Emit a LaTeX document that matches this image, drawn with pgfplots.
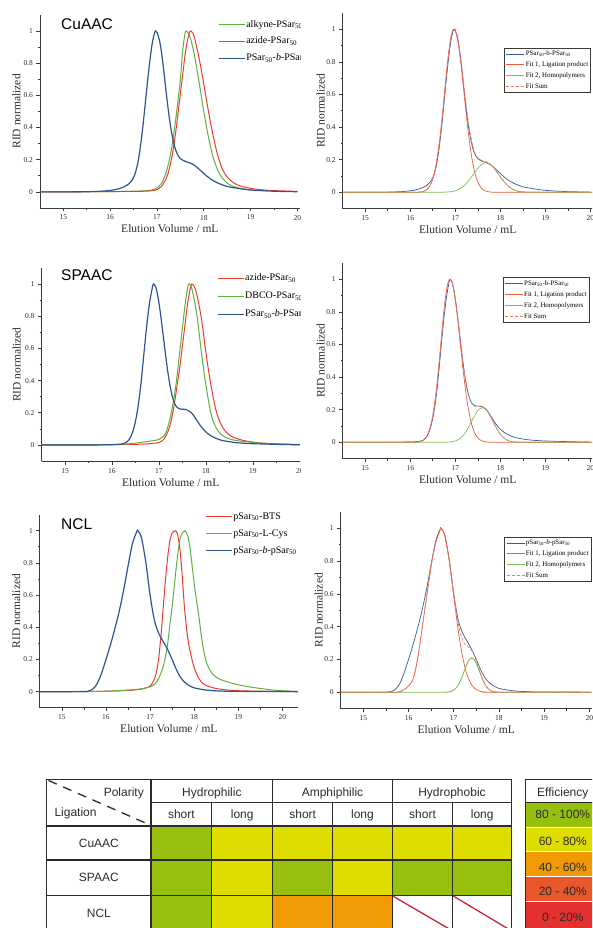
\documentclass[border=0pt]{standalone}
\usepackage{fontspec}
\setmainfont{Liberation Serif}
\newfontfamily\sansf{Liberation Sans}
\usepackage{pgfplots}
\pgfplotsset{compat=1.18}

\definecolor{axisgray}{HTML}{3A3A3A}
\definecolor{tgray}{HTML}{2B2B2B}
\definecolor{lgreen}{HTML}{5DB13E}
\definecolor{lred}{HTML}{EE3A2C}
\definecolor{lblue}{HTML}{2C5593}
\definecolor{fblue}{HTML}{2F5C9E}
\definecolor{fred}{HTML}{EC5A3C}
\definecolor{fgreen}{HTML}{7DBF4E}
\definecolor{fsum}{HTML}{F2795C}
\definecolor{cgreen}{HTML}{97BF0D}
\definecolor{cyellow}{HTML}{DFDC00}
\definecolor{corange}{HTML}{F29A05}
\definecolor{cred1}{HTML}{E9572B}
\definecolor{cred2}{HTML}{E4302F}
\definecolor{diagred}{HTML}{C1283E}

\tikzset{
  tx/.style={font=\sansf\fontsize{12}{14}\selectfont, text=tgray, inner sep=0},
  gl/.style={tgray, line width=1.2pt},
}

\pgfplotsset{
  secbase/.style={
    scale only axis, anchor=south west, axis lines=left,
    axis line style={-, draw=axisgray, line width=0.8pt},
    xmin=14.5, ymin=-0.1, ymax=1.1,
    xtick={15,16,17,18,19,20}, xticklabels={15,16,17,18,19,20},
    minor x tick num=1,
    ytick={0,0.2,0.4,0.6,0.8,1}, yticklabels={0,0.2,0.4,0.6,0.8,1},
    minor y tick num=1,
    tick align=outside, major tick length=3.5pt, minor tick length=2pt,
    tick style={draw=axisgray, line width=0.6pt},
    tick label style={font=\fontsize{7.5}{9}\selectfont, text=tgray},
    label style={font=\fontsize{11.5}{13}\selectfont, text=tgray},
    xlabel={Elution Volume / mL}, ylabel={RID normalized},
    xlabel style={at={(axis description cs:0.5,0)}, anchor=base, yshift=-25pt},
  },
  leftleg/.style={
    legend style={draw=none, fill=none, anchor=north west,
      font=\fontsize{10}{12}\selectfont, row sep=5.5pt, inner sep=0pt,
      nodes={inner sep=1pt, text height=7pt, text depth=2pt}},
    legend cell align=left,
    legend image code/.code={\draw[##1] (0pt,0pt) -- (20pt,0pt); \path (0pt,0pt) -- (26pt,0pt);},
  },
  rightleg/.style={
    legend style={draw=axisgray, line width=0.6pt, fill=white, anchor=north west,
      font=\fontsize{6.9}{8}\selectfont, row sep=2.1pt, inner sep=1.5pt,
      nodes={inner sep=1pt, text height=5.3pt, text depth=1.5pt}},
    legend cell align=left,
    legend image code/.code={\draw[##1] (0pt,0pt) -- (12pt,0pt); \path (0pt,0pt) -- (18pt,0pt);},
  },
}

\begin{document}
\begin{tikzpicture}
\useasboundingbox (0,0) rectangle (592pt,928pt);
\clip (0,0) rectangle (592pt,928pt);

% ---------------- CuAAC, left
\begin{scope}
\clip (0,0) rectangle (300pt,928pt);
\begin{axis}[secbase, leftleg, at={(40pt,720pt)}, width=259.7pt, height=193.2pt,
  xmax=20.05, ylabel style={at={(axis description cs:-0.091,0.5)}, anchor=center},
  legend style={at={(axis description cs:0.685,0.978)}, row sep=5.7pt}]
\addplot[lgreen, line width=1pt, smooth] coordinates {
(14.5,0)(15.5,0.001)(16.0,0.002)(16.5,0.004)(16.8,0.008)(16.9,0.012)(17.0,0.024)
(17.1,0.055)(17.15,0.085)(17.2,0.125)(17.25,0.18)(17.3,0.25)(17.35,0.34)(17.4,0.45)
(17.45,0.57)(17.5,0.7)(17.55,0.88)(17.6,0.985)(17.62,1.0)(17.66,0.99)(17.72,0.95)
(17.8,0.85)(17.9,0.68)(18.0,0.5)(18.1,0.34)(18.2,0.215)(18.3,0.135)(18.4,0.085)
(18.5,0.055)(18.6,0.038)(18.7,0.028)(18.8,0.02)(19.0,0.012)(19.1,0.009)};
\addlegendentry{alkyne-PSar\textsubscript{50}}
\addplot[lred, line width=1pt, smooth] coordinates {
(14.5,0)(15.5,0.001)(16.0,0.002)(16.5,0.003)(16.8,0.005)(16.9,0.008)(17.0,0.014)
(17.1,0.035)(17.2,0.085)(17.25,0.13)(17.3,0.19)(17.35,0.27)(17.4,0.37)(17.45,0.49)
(17.5,0.61)(17.55,0.73)(17.6,0.85)(17.65,0.94)(17.7,0.995)(17.72,1.0)(17.76,0.99)
(17.8,0.96)(17.9,0.83)(18.0,0.67)(18.1,0.5)(18.2,0.35)(18.3,0.225)(18.4,0.14)
(18.5,0.092)(18.6,0.064)(18.7,0.046)(18.8,0.035)(19.0,0.022)(19.2,0.014)(19.5,0.008)(20.0,0.003)};
\addlegendentry{azide-PSar\textsubscript{50}}
\addplot[lblue, line width=1.2pt, smooth] coordinates {
(14.5,0)(15.0,0)(15.5,0.001)(15.8,0.004)(16.0,0.009)(16.1,0.014)(16.2,0.021)(16.3,0.032)
(16.4,0.05)(16.45,0.066)(16.5,0.09)(16.55,0.13)(16.6,0.195)(16.65,0.29)(16.7,0.41)
(16.75,0.55)(16.8,0.69)(16.85,0.82)(16.9,0.925)(16.95,0.99)(16.97,1.0)(17.0,0.99)
(17.05,0.945)(17.1,0.86)(17.15,0.74)(17.2,0.61)(17.25,0.49)(17.3,0.39)(17.35,0.315)
(17.4,0.26)(17.45,0.226)(17.5,0.207)(17.55,0.197)(17.6,0.19)(17.65,0.185)(17.7,0.18)
(17.75,0.174)(17.8,0.165)(17.85,0.154)(17.9,0.141)(18.0,0.115)(18.1,0.09)(18.2,0.07)
(18.3,0.055)(18.4,0.043)(18.5,0.034)(18.6,0.028)(18.8,0.019)(19.0,0.012)(19.2,0.008)
(19.5,0.004)(20.0,0.001)};
\addlegendentry{PSar\textsubscript{50}-\textit{b}-PSar\textsubscript{50}}
\end{axis}
\end{scope}

% ---------------- CuAAC, right
\begin{axis}[secbase, rightleg, at={(342.7pt,719.4pt)}, width=250pt, height=195.6pt,
  xmax=20.05, ylabel style={at={(axis description cs:-0.088,0.5)}, anchor=center},
  legend style={at={(axis description cs:0.6464,0.8226)}}]
\addplot[fblue, line width=0.7pt, smooth] coordinates {
(14.5,0)(15.0,0)(15.5,0.001)(15.8,0.004)(16.0,0.009)(16.1,0.014)(16.2,0.021)(16.3,0.032)
(16.4,0.05)(16.45,0.066)(16.5,0.09)(16.55,0.13)(16.6,0.195)(16.65,0.29)(16.7,0.41)
(16.75,0.55)(16.8,0.69)(16.85,0.82)(16.9,0.925)(16.95,0.99)(16.97,1.0)(17.0,0.99)
(17.05,0.945)(17.1,0.86)(17.15,0.74)(17.2,0.61)(17.25,0.49)(17.3,0.39)(17.35,0.315)
(17.4,0.26)(17.45,0.226)(17.5,0.207)(17.55,0.197)(17.6,0.19)(17.65,0.185)(17.7,0.18)
(17.75,0.174)(17.8,0.165)(17.85,0.154)(17.9,0.141)(18.0,0.115)(18.1,0.09)(18.2,0.07)
(18.3,0.055)(18.4,0.043)(18.5,0.034)(18.6,0.028)(18.8,0.019)(19.0,0.012)(19.2,0.008)
(19.5,0.004)(20.0,0.001)};
\addlegendentry{PSar\textsubscript{50}-b-PSar\textsubscript{50}}
\addplot[fred, line width=0.7pt, smooth] coordinates {
(14.5,0)(16.0,0)(16.17,0.0007)(16.27,0.0039)(16.32,0.0083)(16.37,0.0169)(16.42,0.0324)
(16.47,0.0588)(16.52,0.1007)(16.57,0.163)(16.62,0.249)(16.67,0.36)(16.72,0.492)
(16.77,0.635)(16.82,0.775)(16.87,0.893)(16.92,0.972)(16.97,1.0)(17.02,0.976)(17.07,0.906)
(17.12,0.801)(17.17,0.674)(17.22,0.539)(17.27,0.411)(17.32,0.298)(17.37,0.206)
(17.42,0.135)(17.47,0.0847)(17.52,0.0504)(17.57,0.0286)(17.62,0.0154)(17.67,0.0079)
(17.77,0.0018)(17.87,0.0003)(18.0,0)(20.05,0)};
\addlegendentry{Fit 1, Ligation product\hspace{12pt}}
\addplot[fgreen, line width=0.7pt, smooth] coordinates {
(14.5,0)(16.5,0)(16.68,0.0003)(16.78,0.001)(16.88,0.0031)(16.98,0.008)(17.08,0.0183)
(17.18,0.037)(17.28,0.0656)(17.38,0.1025)(17.48,0.141)(17.58,0.171)(17.68,0.182)
(17.78,0.171)(17.88,0.141)(17.98,0.1025)(18.08,0.0656)(18.18,0.037)(18.28,0.0183)
(18.38,0.008)(18.48,0.0031)(18.58,0.001)(18.68,0.0003)(18.9,0)(20.05,0)};
\addlegendentry{Fit 2, Homopolymers}
\addplot[fsum, line width=0.7pt, dash pattern=on 3pt off 2pt, smooth] coordinates {
(14.5,0)(16.0,0)(16.17,0.0007)(16.27,0.0039)(16.37,0.017)(16.47,0.059)(16.57,0.163)
(16.67,0.36)(16.72,0.493)(16.77,0.636)(16.82,0.777)(16.87,0.896)(16.92,0.977)(16.97,1.005)
(17.02,0.987)(17.07,0.923)(17.12,0.826)(17.17,0.709)(17.22,0.586)(17.27,0.473)
(17.32,0.378)(17.37,0.305)(17.42,0.253)(17.47,0.222)(17.52,0.205)(17.57,0.197)
(17.62,0.193)(17.67,0.19)(17.77,0.175)(17.87,0.145)(17.98,0.1025)(18.08,0.0656)
(18.18,0.037)(18.28,0.0183)(18.38,0.008)(18.48,0.0031)(18.58,0.001)(18.7,0)(20.05,0)};
\addlegendentry{Fit Sum}
\end{axis}

% ---------------- SPAAC, left
\begin{scope}
\clip (0,0) rectangle (300pt,928pt);
\begin{axis}[secbase, leftleg, at={(41.5pt,466.9pt)}, width=258.5pt, height=193.2pt,
  xmax=20.0, ylabel style={at={(axis description cs:-0.096,0.5)}, anchor=center},
  legend style={at={(axis description cs:0.678,0.976)}, row sep=7pt}]
\addplot[lred, line width=1pt, smooth] coordinates {
(14.5,0)(15.5,0.001)(16.0,0.002)(16.5,0.004)(16.8,0.008)(17.0,0.016)(17.1,0.035)
(17.2,0.09)(17.25,0.14)(17.3,0.21)(17.35,0.3)(17.4,0.4)(17.45,0.5)(17.5,0.62)(17.55,0.74)
(17.6,0.86)(17.65,0.95)(17.68,0.99)(17.7,1.0)(17.74,0.99)(17.8,0.94)(17.9,0.79)(18.0,0.57)
(18.05,0.47)(18.1,0.38)(18.2,0.23)(18.3,0.14)(18.4,0.09)(18.5,0.062)(18.6,0.045)
(18.8,0.028)(19.0,0.018)(19.2,0.012)(19.5,0.007)(20.0,0.003)};
\addlegendentry{azide-PSar\textsubscript{50}}
\addplot[lgreen, line width=1pt, smooth] coordinates {
(14.5,0)(15.5,0.001)(16.0,0.003)(16.3,0.006)(16.5,0.012)(16.7,0.02)(16.9,0.028)(17.0,0.035)
(17.1,0.055)(17.15,0.08)(17.2,0.125)(17.25,0.185)(17.3,0.26)(17.35,0.35)(17.4,0.47)
(17.45,0.6)(17.5,0.73)(17.55,0.86)(17.6,0.96)(17.63,1.0)(17.66,0.995)(17.7,0.97)
(17.8,0.82)(17.9,0.58)(17.95,0.47)(18.0,0.37)(18.1,0.2)(18.2,0.115)(18.3,0.072)
(18.4,0.05)(18.5,0.038)(18.6,0.03)(18.8,0.022)(19.0,0.016)(19.2,0.011)(19.5,0.006)(20.0,0.002)};
\addlegendentry{DBCO-PSar\textsubscript{50}}
\addplot[lblue, line width=1.2pt, smooth] coordinates {
(14.5,0)(15.5,0)(16.0,0.002)(16.1,0.003)(16.2,0.006)(16.25,0.009)(16.3,0.015)(16.35,0.028)
(16.4,0.052)(16.45,0.09)(16.5,0.148)(16.55,0.23)(16.6,0.34)(16.65,0.48)(16.7,0.63)
(16.75,0.77)(16.8,0.885)(16.85,0.965)(16.88,1.0)(16.93,0.981)(16.98,0.917)(17.03,0.819)
(17.08,0.703)(17.13,0.583)(17.18,0.47)(17.23,0.376)(17.28,0.305)(17.33,0.26)(17.38,0.235)
(17.43,0.225)(17.48,0.222)(17.53,0.222)(17.58,0.22)(17.68,0.203)(17.78,0.165)(17.88,0.12)
(18.0,0.08)(18.1,0.058)(18.2,0.043)(18.3,0.032)(18.4,0.025)(18.6,0.016)(18.8,0.011)
(19.0,0.008)(19.5,0.004)(20.0,0.001)};
\addlegendentry{PSar\textsubscript{50}-\textit{b}-PSar\textsubscript{50}}
\end{axis}
\end{scope}

% ---------------- SPAAC, right
\begin{axis}[secbase, rightleg, at={(342.7pt,469.4pt)}, width=250pt, height=195.6pt,
  xmax=20.05, ylabel style={at={(axis description cs:-0.088,0.5)}, anchor=center},
  legend style={at={(axis description cs:0.64,0.927)}}]
\addplot[fblue, line width=0.7pt, smooth] coordinates {
(14.5,0)(15.5,0)(16.0,0.002)(16.1,0.003)(16.2,0.006)(16.25,0.009)(16.3,0.015)(16.35,0.028)
(16.4,0.052)(16.45,0.09)(16.5,0.148)(16.55,0.23)(16.6,0.34)(16.65,0.48)(16.7,0.63)
(16.75,0.77)(16.8,0.885)(16.85,0.965)(16.88,1.0)(16.93,0.981)(16.98,0.917)(17.03,0.819)
(17.08,0.703)(17.13,0.583)(17.18,0.47)(17.23,0.376)(17.28,0.305)(17.33,0.26)(17.38,0.235)
(17.43,0.225)(17.48,0.222)(17.53,0.222)(17.58,0.22)(17.68,0.203)(17.78,0.165)(17.88,0.12)
(18.0,0.08)(18.1,0.058)(18.2,0.043)(18.3,0.032)(18.4,0.025)(18.6,0.016)(18.8,0.011)
(19.0,0.008)(19.5,0.004)(20.0,0.001)};
\addlegendentry{PSar\textsubscript{50}-b-PSar\textsubscript{50}}
\addplot[fred, line width=0.7pt, smooth] coordinates {
(14.5,0)(15.9,0)(16.08,0.0003)(16.18,0.0022)(16.23,0.0051)(16.28,0.0111)(16.33,0.0228)
(16.38,0.0439)(16.43,0.0796)(16.48,0.1353)(16.53,0.2163)(16.58,0.3247)(16.63,0.4578)
(16.68,0.6065)(16.73,0.7548)(16.78,0.8825)(16.83,0.969)(16.88,1.0)(16.93,0.977)(16.98,0.91)
(17.03,0.808)(17.08,0.685)(17.13,0.554)(17.18,0.427)(17.23,0.314)(17.28,0.22)
(17.33,0.1475)(17.38,0.0941)(17.43,0.0573)(17.48,0.0333)(17.53,0.0184)(17.58,0.0097)
(17.68,0.0024)(17.78,0.0005)(17.9,0)(20.05,0)};
\addlegendentry{Fit 1, Ligation product\hspace{12pt}}
\addplot[fgreen, line width=0.7pt, smooth] coordinates {
(14.5,0)(16.5,0)(16.7,0.0001)(16.8,0.0006)(16.9,0.0025)(17.0,0.0082)(17.1,0.0222)(17.2,0.05)
(17.3,0.0943)(17.4,0.1483)(17.5,0.1946)(17.6,0.213)(17.7,0.1946)(17.8,0.1483)(17.9,0.0943)
(18.0,0.05)(18.1,0.0222)(18.2,0.0082)(18.3,0.0025)(18.4,0.0006)(18.5,0.0001)(18.7,0)(20.05,0)};
\addlegendentry{Fit 2, Homopolymers}
\addplot[fsum, line width=0.7pt, dash pattern=on 3pt off 2pt, smooth] coordinates {
(14.5,0)(15.9,0)(16.08,0.0003)(16.18,0.0022)(16.23,0.0051)(16.28,0.0111)(16.33,0.0228)
(16.38,0.0439)(16.43,0.0796)(16.48,0.1353)(16.53,0.2163)(16.58,0.3247)(16.63,0.4578)
(16.68,0.6065)(16.73,0.7548)(16.78,0.8825)(16.83,0.97)(16.88,1.0)(16.93,0.981)(16.98,0.917)
(17.03,0.819)(17.08,0.703)(17.13,0.583)(17.18,0.47)(17.23,0.376)(17.28,0.304)(17.33,0.258)
(17.38,0.232)(17.43,0.221)(17.48,0.22)(17.53,0.222)(17.58,0.222)(17.68,0.204)(17.78,0.159)
(17.9,0.0943)(18.0,0.05)(18.1,0.0222)(18.2,0.0082)(18.3,0.0025)(18.4,0.0006)(18.5,0)(20.05,0)};
\addlegendentry{Fit Sum}
\end{axis}

% ---------------- NCL, left
\begin{scope}
\clip (0,0) rectangle (300pt,928pt);
\begin{axis}[secbase, leftleg, at={(39.8pt,220.2pt)}, width=258.1pt, height=193.2pt,
  xmax=20.35, ylabel style={at={(axis description cs:-0.091,0.5)}, anchor=center},
  legend style={at={(axis description cs:0.64,1.019)}, row sep=6pt}]
\addplot[lred, line width=1pt, smooth] coordinates {
(14.5,0)(15.5,0.001)(16.0,0.003)(16.5,0.008)(16.8,0.016)(17.0,0.035)(17.1,0.08)(17.15,0.13)
(17.2,0.22)(17.25,0.36)(17.3,0.53)(17.35,0.7)(17.4,0.84)(17.45,0.94)(17.5,0.985)(17.57,1.0)
(17.62,0.98)(17.67,0.9)(17.72,0.75)(17.78,0.52)(17.85,0.34)(17.9,0.26)(17.95,0.2)(18.0,0.15)
(18.1,0.085)(18.2,0.05)(18.3,0.035)(18.5,0.02)(18.7,0.012)(19.0,0.006)(19.5,0.003)(20.0,0.001)(20.35,0)};
\addlegendentry{pSar\textsubscript{50}-BTS}
\addplot[lgreen, line width=1pt, smooth] coordinates {
(14.5,0)(15.5,0.001)(16.0,0.003)(16.5,0.01)(16.8,0.018)(17.0,0.03)(17.1,0.045)(17.2,0.085)
(17.3,0.16)(17.35,0.22)(17.4,0.3)(17.45,0.42)(17.5,0.53)(17.55,0.66)(17.6,0.79)(17.65,0.9)
(17.7,0.97)(17.78,1.0)(17.85,0.97)(17.9,0.9)(17.95,0.79)(18.0,0.67)(18.05,0.57)(18.1,0.48)
(18.15,0.37)(18.2,0.28)(18.25,0.21)(18.3,0.165)(18.4,0.115)(18.5,0.09)(18.6,0.075)
(18.8,0.057)(19.0,0.043)(19.2,0.032)(19.5,0.02)(19.8,0.01)(20.0,0.006)(20.35,0.002)};
\addlegendentry{pSar\textsubscript{50}-L-Cys}
\addplot[lblue, line width=1.2pt, smooth] coordinates {
(14.5,0)(15.0,0)(15.5,0.001)(15.6,0.004)(15.7,0.016)(15.8,0.05)(15.9,0.115)(16.0,0.2)
(16.1,0.29)(16.2,0.39)(16.3,0.5)(16.4,0.63)(16.5,0.78)(16.6,0.92)(16.7,0.995)(16.72,1.0)
(16.8,0.96)(16.9,0.81)(17.0,0.6)(17.1,0.44)(17.2,0.36)(17.3,0.31)(17.4,0.26)(17.5,0.2)
(17.6,0.135)(17.7,0.085)(17.8,0.055)(17.9,0.036)(18.0,0.024)(18.2,0.013)(18.4,0.007)
(18.7,0.003)(19.0,0.002)(20.0,0.001)(20.35,0)};
\addlegendentry{pSar\textsubscript{50}-\textit{b}-pSar\textsubscript{50}}
\end{axis}
\end{scope}

% ---------------- NCL, right
\begin{axis}[secbase, rightleg, at={(340.7pt,219.3pt)}, width=250.9pt, height=196.8pt,
  xmax=20.05, ylabel style={at={(axis description cs:-0.088,0.5)}, anchor=center},
  legend style={at={(axis description cs:0.652,0.874)}}]
\addplot[fblue, line width=0.7pt, smooth] coordinates {
(14.5,0)(15.0,0)(15.5,0.001)(15.6,0.004)(15.7,0.016)(15.8,0.05)(15.9,0.115)(16.0,0.2)
(16.1,0.29)(16.2,0.39)(16.3,0.5)(16.4,0.63)(16.5,0.78)(16.6,0.92)(16.7,0.995)(16.72,1.0)
(16.8,0.96)(16.9,0.81)(17.0,0.6)(17.1,0.44)(17.2,0.36)(17.3,0.31)(17.4,0.26)(17.5,0.2)
(17.6,0.135)(17.7,0.085)(17.8,0.055)(17.9,0.036)(18.0,0.024)(18.2,0.013)(18.4,0.007)
(18.7,0.003)(19.0,0.002)(20.0,0.001)};
\addlegendentry{pSar\textsubscript{50}-\textit{b}-pSar\textsubscript{50}}
\addplot[fred, line width=0.7pt, smooth] coordinates {
(14.5,0)(15.7,0)(15.8,0.004)(15.9,0.015)(16.0,0.04)(16.1,0.08)(16.2,0.2)(16.3,0.39)
(16.4,0.58)(16.5,0.77)(16.6,0.91)(16.7,0.99)(16.72,1.0)(16.8,0.957)(16.9,0.803)(17.0,0.589)
(17.1,0.377)(17.2,0.211)(17.3,0.103)(17.4,0.044)(17.5,0.0164)(17.6,0.0053)(17.7,0.0015)
(17.8,0)(20.05,0)};
\addlegendentry{Fit 1, Ligation product\hspace{12pt}}
\addplot[fgreen, line width=0.9pt, smooth] coordinates {
(14.5,0)(16.7,0)(16.8,0.0004)(16.9,0.0028)(16.95,0.0063)(17.0,0.0132)(17.05,0.0252)
(17.1,0.0442)(17.15,0.0713)(17.2,0.105)(17.25,0.1423)(17.3,0.1766)(17.35,0.201)(17.4,0.21)
(17.45,0.201)(17.5,0.1766)(17.55,0.1423)(17.6,0.105)(17.65,0.0713)(17.7,0.0442)
(17.75,0.0252)(17.8,0.0132)(17.85,0.0063)(17.9,0.0028)(18.0,0.0004)(18.1,0)(20.05,0)};
\addlegendentry{Fit 2, Homopolymers}
\addplot[fsum, line width=0.7pt, dash pattern=on 3pt off 2pt, smooth] coordinates {
(14.5,0)(15.7,0)(15.8,0.004)(15.9,0.015)(16.0,0.04)(16.1,0.08)(16.2,0.2)(16.3,0.39)
(16.4,0.58)(16.5,0.77)(16.6,0.91)(16.7,0.99)(16.72,1.0)(16.8,0.957)(16.9,0.806)(17.0,0.602)
(17.05,0.504)(17.1,0.421)(17.15,0.358)(17.2,0.316)(17.25,0.292)(17.3,0.28)(17.35,0.27)
(17.4,0.254)(17.45,0.228)(17.5,0.193)(17.55,0.152)(17.6,0.11)(17.65,0.074)(17.7,0.046)
(17.8,0.0132)(17.9,0.0028)(18.0,0.0004)(18.1,0)(20.05,0)};
\addlegendentry{Fit Sum}
\end{axis}

% ---------------- titles
\node[anchor=base west, inner sep=0, font=\sansf\fontsize{15.5}{16}\selectfont] at (61pt,898.7pt) {CuAAC};
\node[anchor=base west, inner sep=0, font=\sansf\fontsize{15.5}{16}\selectfont] at (61pt,647.3pt) {SPAAC};
\node[anchor=base west, inner sep=0, font=\sansf\fontsize{15.5}{16}\selectfont] at (61pt,398.7pt) {NCL};

% ---------------- efficiency table
\begin{axis}[at={(0pt,0pt)}, anchor=south west, scale only axis, width=592pt, height=158pt,
  xmin=0, xmax=592, ymin=770, ymax=928, y dir=reverse, hide axis, clip=false]
% CuAAC row
\addplot[fill=cgreen, draw=none] coordinates {(151,826)(211.7,826)(211.7,860)(151,860)} -- cycle;
\addplot[fill=cyellow, draw=none] coordinates {(211.7,826)(272.7,826)(272.7,860)(211.7,860)} -- cycle;
\addplot[fill=cyellow, draw=none] coordinates {(272.7,826)(332.7,826)(332.7,860)(272.7,860)} -- cycle;
\addplot[fill=cyellow, draw=none] coordinates {(332.7,826)(392.3,826)(392.3,860)(332.7,860)} -- cycle;
\addplot[fill=cyellow, draw=none] coordinates {(392.3,826)(452.7,826)(452.7,860)(392.3,860)} -- cycle;
\addplot[fill=cyellow, draw=none] coordinates {(452.7,826)(511.7,826)(511.7,860)(452.7,860)} -- cycle;
% SPAAC row
\addplot[fill=cgreen, draw=none] coordinates {(151,860)(211.7,860)(211.7,895.7)(151,895.7)} -- cycle;
\addplot[fill=cyellow, draw=none] coordinates {(211.7,860)(272.7,860)(272.7,895.7)(211.7,895.7)} -- cycle;
\addplot[fill=cgreen, draw=none] coordinates {(272.7,860)(332.7,860)(332.7,895.7)(272.7,895.7)} -- cycle;
\addplot[fill=cyellow, draw=none] coordinates {(332.7,860)(392.3,860)(392.3,895.7)(332.7,895.7)} -- cycle;
\addplot[fill=cgreen, draw=none] coordinates {(392.3,860)(452.7,860)(452.7,895.7)(392.3,895.7)} -- cycle;
\addplot[fill=cgreen, draw=none] coordinates {(452.7,860)(511.7,860)(511.7,895.7)(452.7,895.7)} -- cycle;
% NCL row
\addplot[fill=cgreen, draw=none] coordinates {(151,895.7)(211.7,895.7)(211.7,931)(151,931)} -- cycle;
\addplot[fill=cyellow, draw=none] coordinates {(211.7,895.7)(272.7,895.7)(272.7,931)(211.7,931)} -- cycle;
\addplot[fill=corange, draw=none] coordinates {(272.7,895.7)(332.7,895.7)(332.7,931)(272.7,931)} -- cycle;
\addplot[fill=corange, draw=none] coordinates {(332.7,895.7)(392.3,895.7)(392.3,931)(332.7,931)} -- cycle;
% efficiency scale
\addplot[fill=cgreen, draw=none] coordinates {(525.7,802.3)(600,802.3)(600,827.3)(525.7,827.3)} -- cycle;
\addplot[fill=cyellow, draw=none] coordinates {(525.7,827.3)(600,827.3)(600,851.7)(525.7,851.7)} -- cycle;
\addplot[fill=corange, draw=none] coordinates {(525.7,851.7)(600,851.7)(600,876.7)(525.7,876.7)} -- cycle;
\addplot[fill=cred1, draw=none] coordinates {(525.7,876.7)(600,876.7)(600,901.7)(525.7,901.7)} -- cycle;
\addplot[fill=cred2, draw=none] coordinates {(525.7,901.7)(600,901.7)(600,931)(525.7,931)} -- cycle;
% grid
\draw[diagred, line width=1.3pt] (axis cs:392.3,895.7) -- (axis cs:452.7,931);
\draw[diagred, line width=1.3pt] (axis cs:452.7,895.7) -- (axis cs:511.7,931);
\draw[gl] (axis cs:46.7,779.3) rectangle (axis cs:511.7,931);
\draw[gl] (axis cs:151,802.3) -- (axis cs:511.7,802.3);
\draw[gl] (axis cs:46.7,826) -- (axis cs:511.7,826);
\draw[gl] (axis cs:46.7,860) -- (axis cs:511.7,860);
\draw[gl] (axis cs:46.7,895.7) -- (axis cs:511.7,895.7);
\draw[gl] (axis cs:151,779.3) -- (axis cs:151,931);
\draw[gl] (axis cs:272.7,779.3) -- (axis cs:272.7,931);
\draw[gl] (axis cs:392.3,779.3) -- (axis cs:392.3,931);
\draw[gl] (axis cs:211.7,802.3) -- (axis cs:211.7,931);
\draw[gl] (axis cs:332.7,802.3) -- (axis cs:332.7,931);
\draw[gl] (axis cs:452.7,802.3) -- (axis cs:452.7,931);
\draw[gl] (axis cs:525.7,779.3) rectangle (axis cs:600,931);
\draw[gl] (axis cs:525.7,802.3) -- (axis cs:600,802.3);
\draw[white, line width=0.8pt] (axis cs:526.3,827.3) -- (axis cs:600,827.3);
\draw[white, line width=0.8pt] (axis cs:526.3,851.7) -- (axis cs:600,851.7);
\draw[white, line width=0.8pt] (axis cs:526.3,876.7) -- (axis cs:600,876.7);
\draw[white, line width=0.8pt] (axis cs:526.3,901.7) -- (axis cs:600,901.7);
\draw[tgray, line width=1.3pt, dash pattern=on 9pt off 7pt] (axis cs:48.5,780.5) -- (axis cs:150,825);
% text
\node[tx, anchor=base east] at (axis cs:144,797) {Polarity};
\node[tx, anchor=base west] at (axis cs:54.3,817) {Ligation};
\node[tx, anchor=base] at (axis cs:211.85,797) {Hydrophilic};
\node[tx, anchor=base] at (axis cs:332.5,797) {Amphiphilic};
\node[tx, anchor=base] at (axis cs:452,797) {Hydrophobic};
\node[tx, anchor=base] at (axis cs:181.35,818.5) {short};
\node[tx, anchor=base] at (axis cs:242.2,818.5) {long};
\node[tx, anchor=base] at (axis cs:302.7,818.5) {short};
\node[tx, anchor=base] at (axis cs:362.5,818.5) {long};
\node[tx, anchor=base] at (axis cs:422.5,818.5) {short};
\node[tx, anchor=base] at (axis cs:482.2,818.5) {long};
\node[tx, anchor=base] at (axis cs:98.85,847.6) {CuAAC};
\node[tx, anchor=base] at (axis cs:98.85,881.6) {SPAAC};
\node[tx, anchor=base] at (axis cs:98.85,917.6) {NCL};
\node[tx, anchor=base] at (axis cs:562.8,797) {Efficiency};
\node[tx, anchor=base] at (axis cs:562.8,818.6) {80 - 100\%};
\node[tx, anchor=base] at (axis cs:562.8,845.3) {60 - 80\%};
\node[tx, anchor=base] at (axis cs:562.8,871) {40 - 60\%};
\node[tx, anchor=base] at (axis cs:562.8,895) {20 - 40\%};
\node[tx, anchor=base] at (axis cs:562.8,921) {0 - 20\%};
\end{axis}
\end{tikzpicture}
\end{document}
